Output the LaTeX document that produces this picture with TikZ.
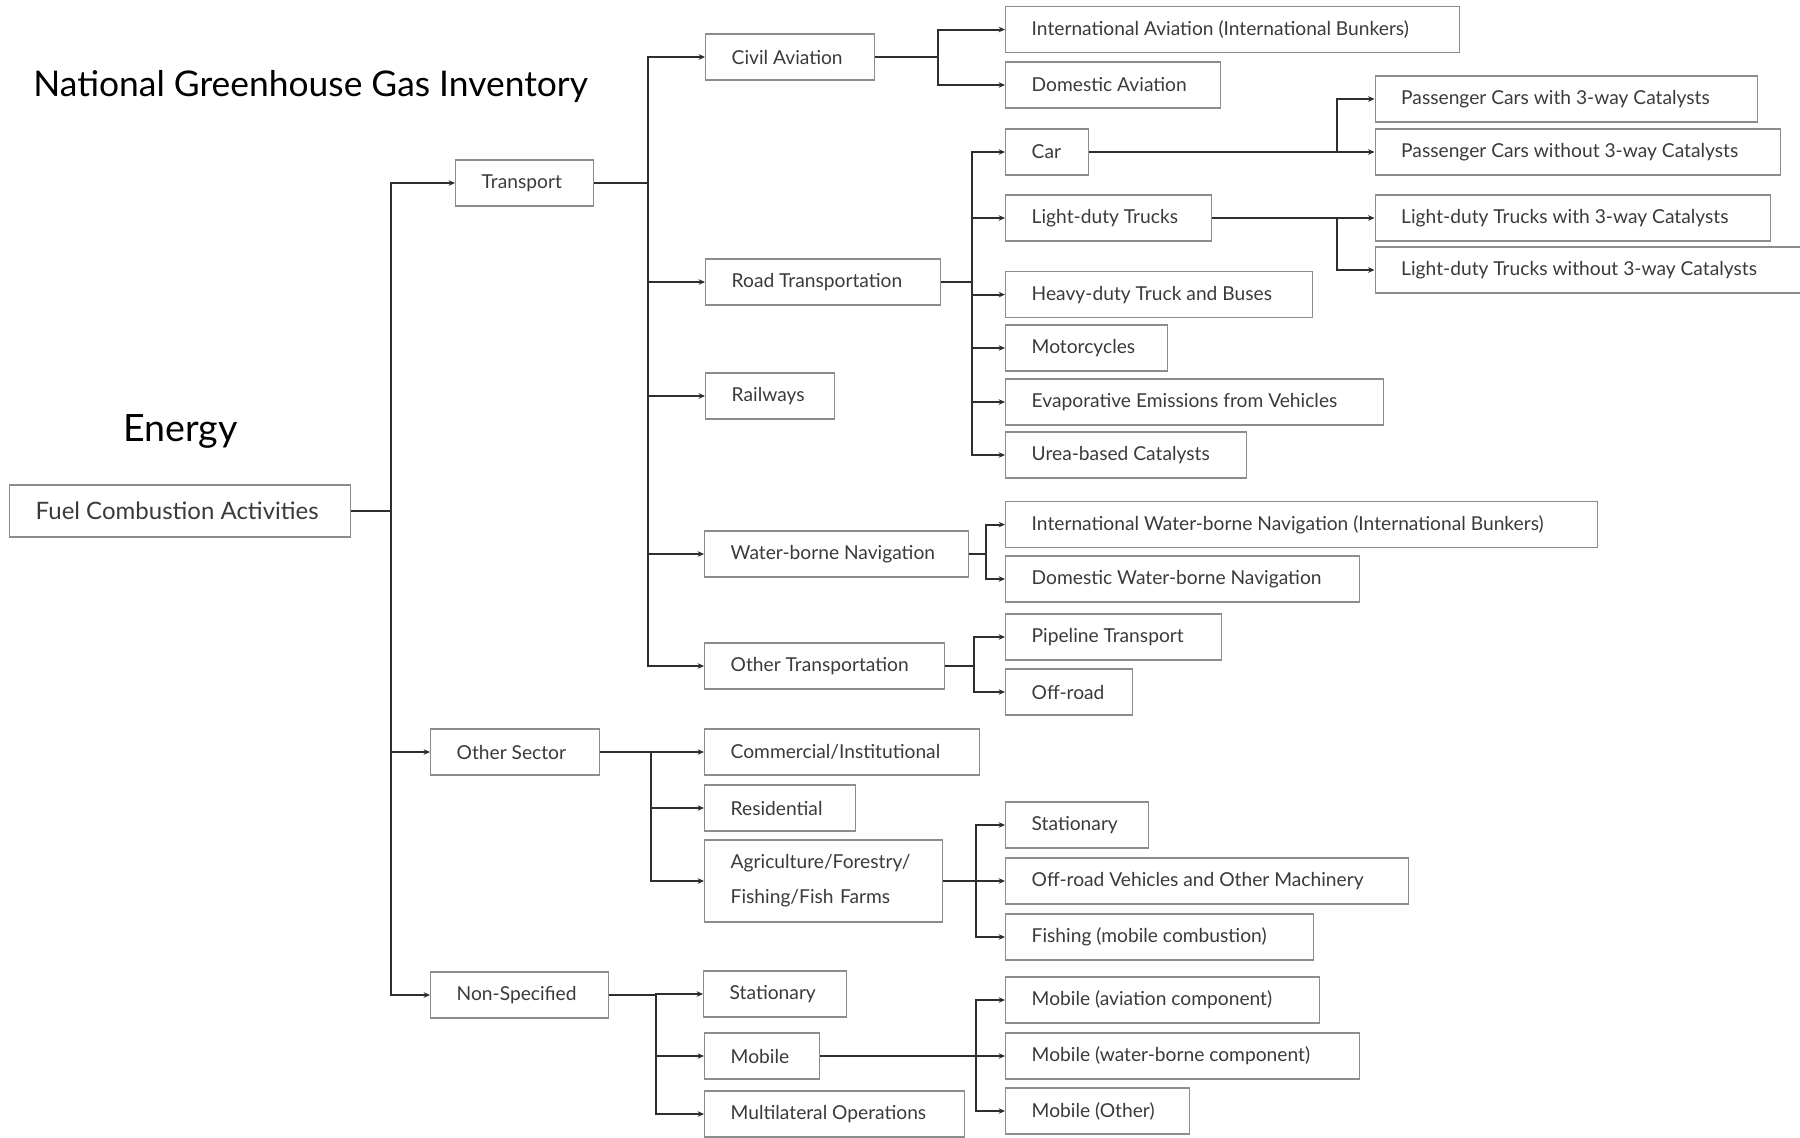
\documentclass[tikz,border=0pt]{standalone}
\usepackage{fontspec}
\usetikzlibrary{arrows.meta}
\newfontfamily\lato{Lato}
\definecolor{boxgray}{HTML}{8C8C8C}
\definecolor{linegray}{HTML}{2E2E2E}
\definecolor{txtgray}{HTML}{3A3A3A}
\newcommand{\boxfont}{\lato\fontsize{9.6pt}{11pt}\selectfont}
\newcommand{\lbl}[2]{\makebox[#1][l]{#2}}

\begin{document}
\begin{tikzpicture}[x=0.5pt, y=-0.5pt, >=Stealth,
  box/.style={draw=boxgray, line width=0.7pt, anchor=west, minimum height=23pt,
    inner xsep=13pt, inner ysep=0pt, text=txtgray, font=\boxfont},
  heading/.style={anchor=base west, inner sep=0pt, text=black},
  link/.style={draw=linegray, line width=1pt},
  arr/.style={link, -{Stealth[length=3.2pt, width=2.8pt]}}]
  \useasboundingbox (0,0) rectangle (1800,1137);

  \node [heading, font=\lato\fontsize{17.7pt}{20pt}\selectfont] (title) at (33,96) {National Greenhouse Gas Inventory};
  \node [heading, font=\lato\fontsize{18.8pt}{21pt}\selectfont] (energy) at (123,441) {Energy};

  % level 0 and 1
  \node [box, minimum height=26pt, font=\lato\fontsize{12pt}{14pt}\selectfont] (fuel) at (9,511) {\lbl{144.5pt}{Fuel Combustion Activities}};
  \node [box] (transport) at (455,183) {\lbl{43pt}{Transport}};
  \node [box] (othsec) at (430,752) {\lbl{58.5pt}{Other Sector}};
  \node [box] (nonspec) at (430,995) {\lbl{63pt}{Non-Specified}};

  % level 2
  \node [box] (civil) at (705,57) {\lbl{58.5pt}{Civil Aviation}};
  \node [box] (road) at (705,282) {\lbl{91.5pt}{Road Transportation}};
  \node [box] (rail) at (705,396) {\lbl{38.5pt}{Railways}};
  \node [box] (water) at (704,554) {\lbl{106pt}{Water-borne Navigation}};
  \node [box] (othtr) at (704,666) {\lbl{94pt}{Other Transportation}};
  \node [box] (comm) at (704,752) {\lbl{111.5pt}{Commercial/Institutional}};
  \node [box] (resid) at (704,808) {\lbl{49.5pt}{Residential}};
  \node [box, minimum height=41pt, text width=93pt, align=left,
    font=\lato\fontsize{9.6pt}{17.5pt}\selectfont] (agri) at (704,881) {Agriculture/Forestry/\\Fishing/Fish Farms};
  \node [box] (stat) at (703,994) {\lbl{45.5pt}{Stationary}};
  \node [box] (mobile) at (704,1056) {\lbl{31.5pt}{Mobile}};
  \node [box] (multi) at (704,1114) {\lbl{104pt}{Multilateral Operations}};

  % level 3
  \node [box] (intav) at (1005,29.5) {\lbl{201pt}{International Aviation (International Bunkers)}};
  \node [box] (domav) at (1005,85) {\lbl{81.5pt}{Domestic Aviation}};
  \node [box] (car) at (1005,152) {\lbl{15.5pt}{Car}};
  \node [box] (ldt) at (1005,218) {\lbl{77pt}{Light-duty Trucks}};
  \node [box] (heavy) at (1005,294.6) {\lbl{127.5pt}{Heavy-duty Truck and Buses}};
  \node [box] (motor) at (1005,348) {\lbl{55pt}{Motorcycles}};
  \node [box] (evap) at (1005,402) {\lbl{163pt}{Evaporative Emissions from Vehicles}};
  \node [box] (urea) at (1005,455) {\lbl{94.5pt}{Urea-based Catalysts}};
  \node [box] (intwb) at (1005,524.6) {\lbl{270pt}{International Water-borne Navigation (International Bunkers)}};
  \node [box] (domwb) at (1005,579) {\lbl{151pt}{Domestic Water-borne Navigation}};
  \node [box] (pipe) at (1005,637) {\lbl{82pt}{Pipeline Transport}};
  \node [box] (offroad) at (1005,692) {\lbl{37.5pt}{Off-road}};
  \node [box] (astat) at (1005,825) {\lbl{45.5pt}{Stationary}};
  \node [box] (offveh) at (1005,881) {\lbl{175.5pt}{Off-road Vehicles and Other Machinery}};
  \node [box] (fish) at (1005,937) {\lbl{128pt}{Fishing (mobile combustion)}};
  \node [box] (mav) at (1005,1000) {\lbl{131pt}{Mobile (aviation component)}};
  \node [box] (mwb) at (1005,1056) {\lbl{151pt}{Mobile (water-borne component)}};
  \node [box] (moth) at (1005,1111) {\lbl{66pt}{Mobile (Other)}};

  % level 4
  \node [box] (pcw) at (1374.5,99) {\lbl{165pt}{Passenger Cars with 3-way Catalysts}};
  \node [box] (pcwo) at (1374.5,152) {\lbl{176.5pt}{Passenger Cars without 3-way Catalysts}};
  \node [box] (ldtw) at (1374.5,218) {\lbl{171.5pt}{Light-duty Trucks with 3-way Catalysts}};
  \node [box] (ldtwo) at (1374.5,270) {\lbl{187pt}{Light-duty Trucks without 3-way Catalysts}};

  % branch points
  \coordinate (jfuel) at (391,0 |- fuel.east);
  \coordinate (jtrans) at (648,0 |- transport.east);
  \coordinate (jother) at (651,0 |- othsec.east);
  \coordinate (jnon) at (656,0 |- nonspec.east);
  \coordinate (jciv) at (938,0 |- civil.east);
  \coordinate (jroad) at (972,0 |- road.east);
  \coordinate (jwater) at (986,0 |- water.east);
  \coordinate (jothtr) at (974,0 |- othtr.east);
  \coordinate (jagri) at (976,0 |- agri.east);
  \coordinate (jmob) at (976,0 |- mobile.east);
  \coordinate (jcar) at (1337,0 |- car.east);
  \coordinate (jldt) at (1337,0 |- ldt.east);

  % connectors
  \draw [link] (fuel.east) -- (jfuel);
  \foreach \c in {transport, othsec, nonspec} \draw [arr] (jfuel) |- (\c.west);
  \draw [link] (transport.east) -- (jtrans);
  \foreach \c in {civil, road, rail, water, othtr} \draw [arr] (jtrans) |- (\c.west);
  \draw [link] (othsec.east) -- (jother);
  \foreach \c in {comm, resid, agri} \draw [arr] (jother) |- (\c.west);
  \draw [link] (nonspec.east) -- (jnon);
  \foreach \c in {stat, mobile, multi} \draw [arr] (jnon) |- (\c.west);
  \draw [link] (civil.east) -- (jciv);
  \foreach \c in {intav, domav} \draw [arr] (jciv) |- (\c.west);
  \draw [link] (road.east) -- (jroad);
  \foreach \c in {car, ldt, heavy, motor, evap, urea} \draw [arr] (jroad) |- (\c.west);
  \draw [link] (water.east) -- (jwater);
  \foreach \c in {intwb, domwb} \draw [arr] (jwater) |- (\c.west);
  \draw [link] (othtr.east) -- (jothtr);
  \foreach \c in {pipe, offroad} \draw [arr] (jothtr) |- (\c.west);
  \draw [link] (agri.east) -- (jagri);
  \foreach \c in {astat, offveh, fish} \draw [arr] (jagri) |- (\c.west);
  \draw [link] (mobile.east) -- (jmob);
  \foreach \c in {mav, mwb, moth} \draw [arr] (jmob) |- (\c.west);
  \draw [link] (car.east) -- (jcar);
  \foreach \c in {pcw, pcwo} \draw [arr] (jcar) |- (\c.west);
  \draw [link] (ldt.east) -- (jldt);
  \foreach \c in {ldtw, ldtwo} \draw [arr] (jldt) |- (\c.west);
\end{tikzpicture}
\end{document}
